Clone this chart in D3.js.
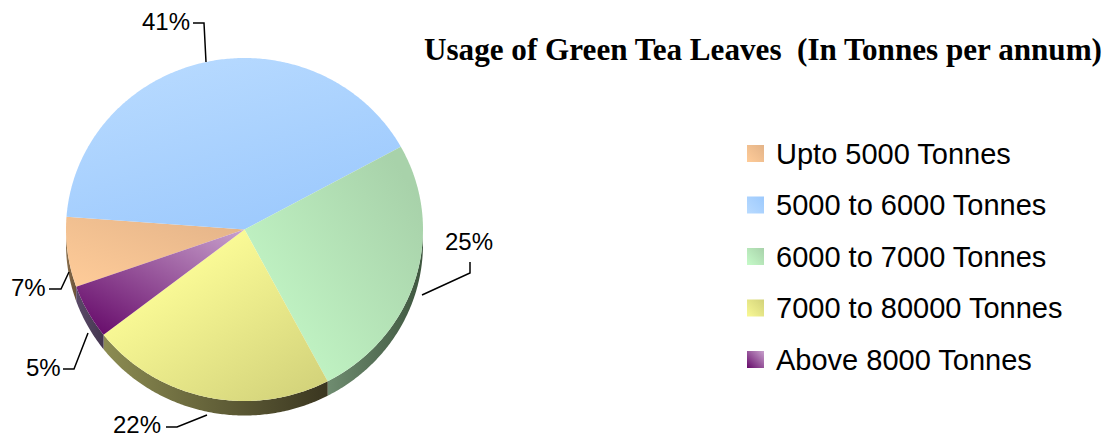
<!DOCTYPE html>
<html>
<head>
<meta charset="utf-8">
<script src="https://cdn.jsdelivr.net/npm/d3@7"></script>
<style>
  html, body { margin: 0; padding: 0; background: #fff; }
  svg { display: block; }
</style>
</head>
<body>
<div id="chart"></div>
<script>
const categories = ['Upto 5000 Tonnes', '5000 to 6000 Tonnes', '6000 to 7000 Tonnes', '7000 to 80000 Tonnes', 'Above 8000 Tonnes'];
const shares = [6.6, 40.8, 25.3, 22.2, 5.1];
const chartTitle = 'Usage of Green Tea Leaves  (In Tonnes per annum)';

// light end / dark end of each slice gradient
const lightColors = ['#ffcc99', '#b9dbff', '#c6fbc9', '#f9f995', '#c9a2cd'];
const darkColors = ['#e3b388', '#9cc9fd', '#a8d2aa', '#d2d27a', '#660a6a'];
const wallLeft = ['#8a6f4c', '#555', '#6f8c70', '#8c8c52', '#5b4a68'];
const wallRight = ['#6a5238', '#555', '#3e563f', '#3a3620', '#443650'];

const width = 1107, height = 439;
const cx = 244.5, cy = 229.5, rx = 178.5, ry = 171.5, depth = 14.5;

// gradient direction per slice, bounding box units
const gradDirs = [
  [0, 1, 1, 0],
  [0.15, 0, 0.7, 1],
  [0.1, 1, 1, 0.25],
  [0.3, 0.3, 0.9, 1],
  [1, 0, 0.1, 1]
];

// label anchor and leader polyline for each slice
const labelSpots = [
  { x: 11, y: 296, line: [[49, 289], [61, 289], [69, 272]] },
  { x: 142, y: 30, line: [[193, 23], [204, 23], [206, 62]] },
  { x: 445, y: 250, line: [[470, 262], [470, 273], [422, 295]] },
  { x: 113, y: 433, line: [[166, 427], [177, 427], [207, 415]] },
  { x: 26, y: 376, line: [[63, 369], [74, 369], [88, 333]] }
];

const svg = d3.select('#chart').append('svg')
  .attr('width', width)
  .attr('height', height);

const defs = svg.append('defs');

categories.forEach((c, i) => {
  const g = defs.append('linearGradient')
    .attr('id', 'top' + i)
    .attr('x1', gradDirs[i][0]).attr('y1', gradDirs[i][1])
    .attr('x2', gradDirs[i][2]).attr('y2', gradDirs[i][3]);
  g.append('stop').attr('offset', 0).attr('stop-color', lightColors[i]);
  g.append('stop').attr('offset', 1).attr('stop-color', darkColors[i]);

  const w = defs.append('linearGradient')
    .attr('id', 'wall' + i)
    .attr('x1', 0).attr('y1', 0).attr('x2', 1).attr('y2', 0);
  w.append('stop').attr('offset', 0).attr('stop-color', wallLeft[i]);
  w.append('stop').attr('offset', 1).attr('stop-color', wallRight[i]);
});

// legend swatches run the other way round, dark corner to light
categories.forEach((c, i) => {
  const g = defs.append('linearGradient')
    .attr('id', 'swatch' + i)
    .attr('x1', 0).attr('y1', 1).attr('x2', 1).attr('y2', 0);
  g.append('stop').attr('offset', 0).attr('stop-color', i === 4 ? darkColors[i] : lightColors[i]);
  g.append('stop').attr('offset', 1).attr('stop-color', i === 4 ? lightColors[i] : darkColors[i]);
});

const pie = d3.pie()
  .sort(null)
  .startAngle(250.5 * Math.PI / 180)
  .endAngle((250.5 + 360) * Math.PI / 180);
const arcs = pie(shares);

// unit circle squeezed into an ellipse, same as the tilted pie
const px = d3.scaleLinear().domain([-1, 1]).range([cx - rx, cx + rx]);
const py = d3.scaleLinear().domain([-1, 1]).range([cy - ry, cy + ry]);
const pointAt = (a, dy) => [px(Math.sin(a)), py(-Math.cos(a)) + dy];

// side walls: only the part of a slice facing the viewer
const walls = svg.append('g');
arcs.forEach((d, i) => {
  const tau = Math.PI * 2;
  [0, tau, -tau].forEach(shift => {
    const a0 = Math.max(d.startAngle + shift, Math.PI / 2);
    const a1 = Math.min(d.endAngle + shift, Math.PI * 1.5);
    if (a1 <= a0) return;
    const steps = d3.range(a0, a1, 0.01).concat([a1]);
    const upper = steps.map(a => pointAt(a, 0));
    const lower = steps.slice().reverse().map(a => pointAt(a, depth));
    walls.append('path')
      .attr('d', d3.line()(upper.concat(lower)) + 'Z')
      .attr('fill', `url(#wall${i})`);
  });
});

// top faces
svg.append('g')
  .selectAll('path')
  .data(arcs)
  .join('path')
  .attr('d', d => {
    const steps = d3.range(d.startAngle, d.endAngle, 0.01).concat([d.endAngle]);
    return d3.line()([[px(0), py(0)]].concat(steps.map(a => pointAt(a, 0)))) + 'Z';
  })
  .attr('fill', (d, i) => `url(#top${i})`);

// leader lines and percent labels
const pct = d3.format('.0f');
labelSpots.forEach((s, i) => {
  svg.append('path')
    .attr('d', d3.line()(s.line))
    .attr('fill', 'none')
    .attr('stroke', '#000')
    .attr('stroke-width', 1.5);
  svg.append('text')
    .attr('x', s.x)
    .attr('y', s.y)
    .attr('font-family', '"Liberation Sans", Arial, sans-serif')
    .attr('font-size', 24)
    .text(pct(shares[i]) + '%');
});

svg.append('text')
  .attr('x', 424)
  .attr('y', 60)
  .style('white-space', 'pre')
  .attr('font-family', '"Liberation Serif", "Times New Roman", serif')
  .attr('font-weight', 'bold')
  .attr('font-size', 31)
  .attr('textLength', 678)
  .attr('lengthAdjust', 'spacingAndGlyphs')
  .text(chartTitle);

const legend = svg.append('g');
const legendY = d3.scalePoint().domain(categories).range([145, 351]);
categories.forEach((c, i) => {
  legend.append('rect')
    .attr('x', 747)
    .attr('y', legendY(c))
    .attr('width', 17)
    .attr('height', 17)
    .attr('fill', `url(#swatch${i})`);
  legend.append('text')
    .attr('x', 776)
    .attr('y', legendY(c) + 18.5)
    .attr('font-family', '"Liberation Sans", Arial, sans-serif')
    .attr('font-size', 29)
    .text(c);
});
</script>
</body>
</html>
